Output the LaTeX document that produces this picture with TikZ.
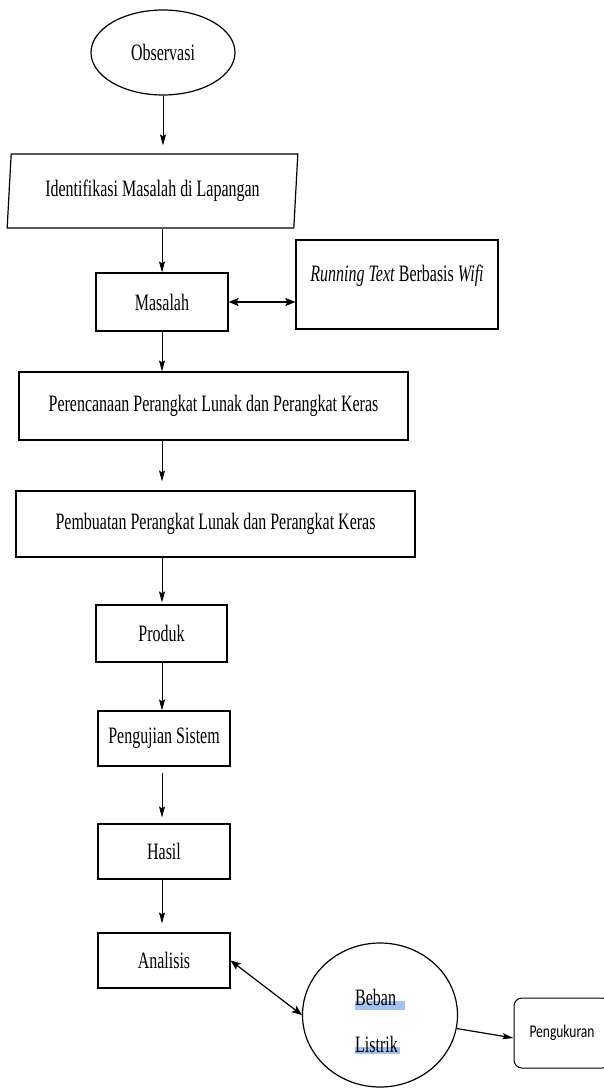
\documentclass[tikz,border=0pt]{standalone}
\usepackage{fontspec}
\setmainfont[FakeStretch=0.68]{Liberation Serif}
\newfontfamily\calibrifont[FakeStretch=0.75]{Carlito}
\usetikzlibrary{shapes.geometric,arrows.meta}

\definecolor{spellblue}{RGB}{164,194,240}
\tikzset{
  box/.style={draw, line width=1.2pt, inner sep=0pt, font=\fontsize{23.5}{27}\selectfont},
  flow/.style={-{Stealth[length=11pt,width=6pt,inset=2pt]}, line width=0.9pt},
  twoway/.style={{Stealth[length=10pt,width=8pt,inset=2pt]}-{Stealth[length=10pt,width=8pt,inset=2pt]}, line width=1.5pt},
  hilite/.style={fill=spellblue},
}

\begin{document}
\begin{tikzpicture}[x=1pt,y=-1pt]
% Configurable parameters
\def\bodyfont{\fontsize{23.5}{27}\selectfont}
\useasboundingbox (0,0) rectangle (603,1092);
\coordinate (col) at (162,0);

% Main column
\node[box, ellipse, minimum width=144pt, minimum height=85pt] (obs) at (163,52.5) {Observasi};
\node[box, trapezium, trapezium left angle=82, trapezium right angle=98, trapezium stretches=true,
  minimum width=291pt, minimum height=74pt] (ident) at (152.5,191) {Identifikasi Masalah di Lapangan};
\node[box, minimum width=132pt, minimum height=58pt] (masalah) at (162,302) {Masalah};
\node[box, minimum width=202pt, minimum height=89pt,
  label={[font=\bodyfont, anchor=north, inner sep=0pt, yshift=-25pt]north:{\textit{Running Text} Berbasis \textit{Wifi}}}] (running) at (397,284.5) {};
\node[box, minimum width=389pt, minimum height=68pt] (rencana) at (213.5,406) {Perencanaan Perangkat Lunak dan Perangkat Keras};
\node[box, minimum width=399pt, minimum height=66pt] (buat) at (215.5,524) {Pembuatan Perangkat Lunak dan Perangkat Keras};
\node[box, minimum width=131pt, minimum height=57pt] (produk) at (161.5,633.5) {Produk};
\node[box, minimum width=132pt, minimum height=55pt] (uji) at (164,738.5) {Pengujian Sistem};
\node[box, minimum width=132pt, minimum height=55pt] (hasil) at (164,851.5) {Hasil};
\node[box, minimum width=132pt, minimum height=55pt] (analisis) at (164,960.5) {Analisis};

% Beban listrik
\node[box, ellipse, minimum width=155pt, minimum height=144pt] (beban) at (380,1015) {};
\fill[hilite] (355,1001) rectangle (405,1010);
\fill[hilite] (355,1047) rectangle (400,1054);
\node[anchor=west, inner sep=0pt, font=\bodyfont] (bebanA) at (355,997) {Beban};
\node[anchor=west, inner sep=0pt, font=\bodyfont] (bebanB) at (355,1044) {Listrik};
\node[draw, rounded corners=8pt, line width=1pt, minimum width=96pt, minimum height=70pt,
  font=\calibrifont\fontsize{18}{20}\selectfont] (ukur) at (562,1033) {Pengukuran};

% Connectors
\draw[flow, shorten >=8pt] (obs.south) -- (obs.south |- ident.north);
\draw[flow] (masalah.north |- ident.south) -- (masalah.north);
\draw[twoway] (masalah.east) -- (masalah.east -| running.west);
\draw[flow] (masalah.south) -- (col |- rencana.north);
\draw[flow, shorten >=9pt] (col |- rencana.south) -- (col |- buat.north);
\draw[flow, shorten >=2pt] (col |- buat.south) -- (col |- produk.north);
\draw[flow] (col |- produk.south) -- (col |- uji.north);
\draw[flow, shorten <=6pt, shorten >=6pt] (col |- uji.south) -- (col |- hasil.north);
\draw[flow, shorten >=9pt] (col |- hasil.south) -- (col |- analisis.north);
\draw[twoway, line width=1.2pt] (analisis.east) -- (beban.west);
\draw[flow, line width=1.2pt] (beban.-10) -- ([yshift=-5pt]ukur.west);
\end{tikzpicture}
\end{document}
